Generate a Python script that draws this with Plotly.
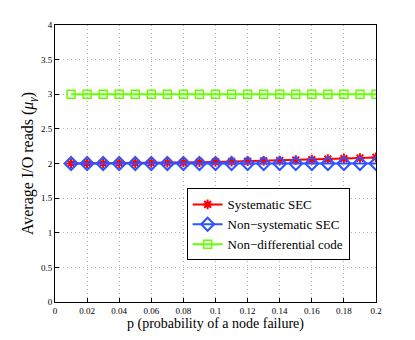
import plotly.graph_objects as go

# failure probability
p_values = [0.01, 0.02, 0.03, 0.04, 0.05, 0.06, 0.07, 0.08, 0.09, 0.10,
            0.11, 0.12, 0.13, 0.14, 0.15, 0.16, 0.17, 0.18, 0.19, 0.20]

# average I/O reads per scheme
systematic_sec = [2.000, 2.001, 2.002, 2.004, 2.006, 2.008, 2.011, 2.014, 2.018, 2.022,
                  2.027, 2.032, 2.037, 2.043, 2.050, 2.056, 2.064, 2.071, 2.079, 2.088]
non_systematic_sec = [2.0] * 20
non_differential = [3.0] * 20

x_ticks = [0, 0.02, 0.04, 0.06, 0.08, 0.1, 0.12, 0.14, 0.16, 0.18, 0.2]
y_ticks = [0, 0.5, 1, 1.5, 2, 2.5, 3, 3.5, 4]

FONT = "Liberation Serif, Times New Roman, serif"

fig = go.Figure()

fig.add_trace(go.Scatter(
    x=p_values, y=systematic_sec, mode="lines+markers",
    name="Systematic SEC",
    line=dict(color="#ff0000", width=2),
    marker=dict(symbol="asterisk-open", size=8, color="#ff0000", line=dict(color="#ff0000", width=2)),
))
fig.add_trace(go.Scatter(
    x=p_values, y=non_systematic_sec, mode="lines+markers",
    name="Non\u2212systematic SEC",
    line=dict(color="#2f54ff", width=2),
    marker=dict(symbol="diamond-open", size=10, color="#2f54ff", line=dict(color="#2f54ff", width=2)),
))
fig.add_trace(go.Scatter(
    x=p_values, y=non_differential, mode="lines+markers",
    name="Non\u2212differential code",
    line=dict(color="#66ff00", width=2),
    marker=dict(symbol="square-open", size=8, color="#66ff00", line=dict(color="#66ff00", width=1.5)),
))

axis_common = dict(
    showline=True, mirror=True, linecolor="black", linewidth=1,
    showgrid=True, gridcolor="#b0b0b0", griddash="1px,3px", gridwidth=1,
    zeroline=False, ticks="inside", ticklen=4, tickcolor="black",
    tickfont=dict(family=FONT, size=9, color="black"),
    automargin=False,
)

fig.update_xaxes(
    range=[0, 0.2], tickvals=x_ticks, ticktext=[f"{t:g}" for t in x_ticks],
    title=dict(text="p (probability of a node failure)", font=dict(family=FONT, size=14, color="black"), standoff=2),
    **axis_common,
)
fig.update_yaxes(
    range=[0, 4], tickvals=y_ticks, ticktext=[f"{t:g}" for t in y_ticks],
    title=dict(text="Average I/O reads (<i>\u03bc</i><sub><i>\u03b3</i></sub>)",
               font=dict(family=FONT, size=16, color="black"), standoff=3),
    **axis_common,
)

# page body adds an 8px offset, so the figure is drawn 8px smaller
fig.update_layout(
    width=407, height=332,
    margin=dict(l=47, r=39, t=17, b=38),
    paper_bgcolor="white", plot_bgcolor="white",
    font=dict(family=FONT, color="black"),
    legend=dict(
        x=0.41, y=0.41, xanchor="left", yanchor="top",
        bgcolor="white", bordercolor="black", borderwidth=1,
        font=dict(family=FONT, size=13, color="black"),
        tracegroupgap=0, itemwidth=30,
    ),
)

fig.write_html("out.html")
